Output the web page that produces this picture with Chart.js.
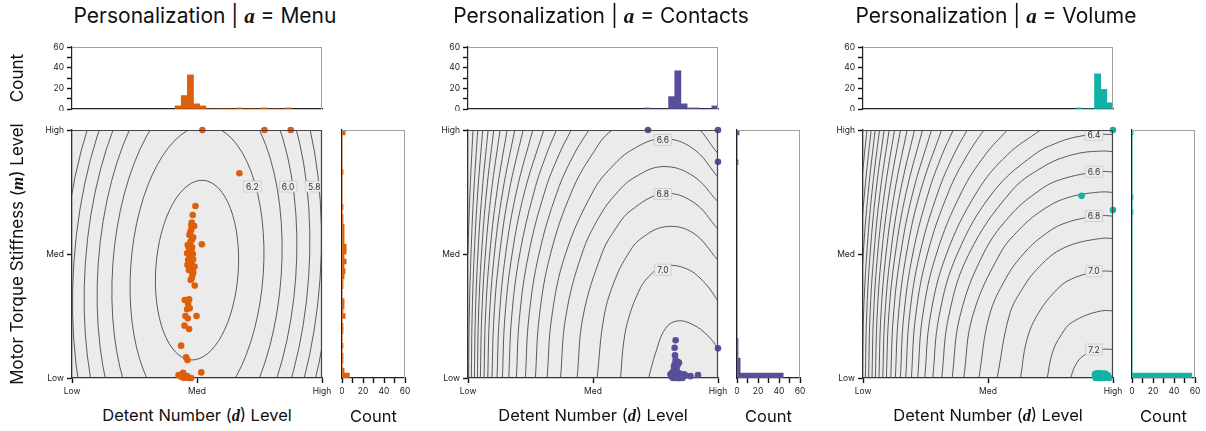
<!DOCTYPE html>
<html>
<head>
<meta charset="utf-8">
<script src="https://cdn.jsdelivr.net/npm/chart.js@4.4.1/dist/chart.umd.min.js"></script>
<style>
  html, body { margin: 0; padding: 0; background: #fff; }
  #fig { position: relative; width: 1206px; height: 431px; overflow: hidden;
         font-family: Inter, "Noto Sans", sans-serif; color: #111; }
  canvas { position: absolute; }
  .lab { position: absolute; white-space: nowrap; line-height: 1; }
  .c { transform: translate(-50%, -50%); }
  .r { transform: translate(-50%, -50%) rotate(-90deg); }
  .v { font-family: "Liberation Serif", serif; font-style: italic; font-weight: bold; }
</style>
</head>
<body>
<div id="fig"></div>
<script>
// ---------- data ----------
const actions = ['Menu', 'Contacts', 'Volume'];
const seriesColors = ['#de5f0b', '#584f9b', '#13b2a4'];
const levelNames = ['Low', 'Med', 'High'];
const levelValues = [-1, 0, 1];
const countTicks = [0, 10, 20, 30, 40, 50, 60];

// chosen settings per participant (d, m), coded Low = -1, Med = 0, High = 1
const menuX = [0.043, 0.54, 0.75, 0.339,
  -0.012, -0.034, -0.042, -0.023, -0.047, -0.06, -0.031, -0.052, 0.039, -0.074, -0.039, -0.058,
  -0.079, -0.034, -0.052, -0.071, -0.031, -0.058, -0.076, -0.02, -0.05, -0.036, -0.042, -0.018,
  -0.045, -0.055, -0.04, -0.065, -0.045, -0.06, -0.042, -0.065, -0.03, -0.05,
  -0.098, -0.063, -0.071, -0.058, -0.079, -0.004, -0.092, -0.074, -0.1, -0.063,
  -0.127, -0.087, -0.076,
  -0.147, -0.127, -0.111, -0.098, -0.079, -0.066, -0.047, -0.106, 0.034];
const menuY = [1, 1, 1, 0.651,
  0.387, 0.315, 0.253, 0.226, 0.194, 0.153, 0.135, 0.099, 0.078, 0.073, 0.054, 0.032,
  0.006, 0, -0.027, -0.048, -0.043, -0.075, -0.089, -0.102, -0.124, -0.169, -0.196, -0.255,
  0.23, 0.17, 0.115, 0.05, 0.02, -0.01, -0.06, -0.13, -0.15, -0.21,
  -0.371, -0.366, -0.403, -0.438, -0.446, -0.5, -0.5, -0.519, -0.578, -0.605,
  -0.739, -0.833, -0.855,
  -0.976, -0.99, -0.958, -0.994, -0.984, -1, -1, -1, -0.955];

const contactsX = [0.44, 1, 1, 1, 0.84,
  0.661, 0.653, 0.656, 0.661, 0.68, 0.653, 0.675, 0.648, 0.688, 0.665, 0.67,
  0.62, 0.63, 0.635, 0.64, 0.645, 0.648, 0.65, 0.652, 0.638,
  0.656, 0.658, 0.66, 0.662, 0.664, 0.666, 0.668, 0.67, 0.672, 0.674, 0.676, 0.678,
  0.68, 0.682, 0.684, 0.686, 0.688, 0.69, 0.692, 0.694, 0.696, 0.698, 0.7,
  0.66, 0.67, 0.68, 0.69, 0.665, 0.675,
  0.71, 0.72, 0.73, 0.74, 0.715, 0.78];
const contactsY = [1, 1, 0.743, -0.761, -0.976,
  -0.695, -0.757, -0.816, -0.856, -0.872, -0.891, -0.899, -0.909, -0.877, -0.93, -0.94,
  -0.97, -0.99, -0.98, -1, -0.965, -0.985, -0.975, -0.995, -0.95,
  -0.97, -0.99, -0.98, -1, -0.965, -0.985, -0.975, -0.995, -0.97, -0.99, -0.98, -1,
  -0.965, -0.985, -0.975, -0.995, -0.97, -0.99, -0.98, -1, -0.965, -0.985, -0.975,
  -0.99, -0.97, -0.98, -1, -0.965, -0.985,
  -0.975, -0.99, -0.97, -0.98, -1, -0.985];

const volumeX = [1, 0.749, 1,
  0.855, 0.858, 0.86, 0.862, 0.864, 0.866, 0.868, 0.87, 0.872, 0.874, 0.876, 0.878,
  0.88, 0.882, 0.884, 0.886, 0.888, 0.89, 0.892, 0.894, 0.896, 0.898,
  0.86, 0.865, 0.87, 0.875, 0.88, 0.885, 0.89, 0.895, 0.87, 0.88, 0.89, 0.9,
  0.903, 0.906, 0.909, 0.912, 0.915, 0.918, 0.921, 0.924, 0.927, 0.93,
  0.933, 0.936, 0.939, 0.942, 0.945, 0.948, 0.91, 0.92, 0.93,
  0.96, 0.97, 0.985, 0.998];
const volumeY = [1, 0.469, 0.355,
  -0.97, -0.99, -0.98, -1, -0.965, -0.985, -0.975, -0.995, -0.97, -0.99, -0.98, -1,
  -0.965, -0.985, -0.975, -0.995, -0.97, -0.99, -0.98, -1, -0.965, -0.985,
  -0.975, -0.995, -0.97, -0.99, -0.98, -1, -0.965, -0.985, -0.975, -0.995,
  -0.97, -0.99, -0.98, -1, -0.965, -0.985, -0.975, -0.995, -0.97, -0.99,
  -0.98, -1, -0.965, -0.985, -0.975, -0.995, -0.97, -0.99, -0.98,
  -0.97, -0.99, -0.98, -1];

// marginal histogram of d (top), bins of equal width from a start value
const menuTopStart = -0.175, menuTopWidth = 0.049;
const menuTopCounts = [3, 13, 33, 5, 3, 0, 0, 0, 0, 0, 1, 0, 0, 0, 1, 0, 0, 0, 1];
const contactsTopStart = 0.407, contactsTopWidth = 0.0494;
const contactsTopCounts = [1, 0, 0, 0, 12, 37, 5, 1, 1, 0, 0, 3];
const volumeTopStart = 0.704, volumeTopWidth = 0.0493;
const volumeTopCounts = [1, 0, 0, 34, 19, 6];

// marginal histogram of m (right), 50 bins from Low to High, index 0 = Low end
const sideStart = -1, sideWidth = 0.04;
const menuSideCounts = [7, 2, 0, 1, 1, 0, 1, 0, 0, 1, 1, 0, 3, 1, 2, 2, 0, 0, 1, 1,
  2, 3, 2, 4, 2, 4, 4, 2, 2, 2, 2, 1, 1, 0, 1, 0, 0, 0, 0, 0,
  0, 1, 0, 0, 0, 0, 0, 0, 0, 3];
const contactsSideCounts = [44, 3, 3, 3, 1, 1, 1, 1, 0, 0, 0, 0, 0, 0, 0, 0, 0, 0, 0, 0,
  0, 0, 0, 0, 0, 0, 0, 0, 0, 0, 0, 0, 0, 0, 0, 0, 0, 0, 0, 0,
  0, 0, 0, 1, 0, 0, 0, 0, 0, 2];
const volumeSideCounts = [57, 0, 0, 0, 0, 0, 0, 0, 0, 0, 0, 0, 0, 0, 0, 0, 0, 0, 0, 0,
  0, 0, 0, 0, 0, 0, 0, 0, 0, 0, 0, 0, 0, 1, 0, 0, 1, 0, 0, 0,
  0, 0, 0, 0, 0, 0, 0, 0, 0, 1];

// predicted-preference contours for Menu: concentric ellipses (levels 6.3 down to 5.7)
const menuRingCenter = [0.0, -0.13];
const menuRingTiltDeg = 4;
const menuRingRx = [0.33, 0.531, 0.675, 0.792, 0.895, 0.987, 1.071];
const menuRingRy = [0.726, 1.168, 1.484, 1.743, 1.969, 2.171, 2.356];
const menuContourLabels = [['6.2', 0.443, 0.544], ['6.0', 0.729, 0.544], ['5.8', 0.938, 0.544]];

// contour polylines for Contacts, outermost first
const contactsContours = [
  [[-1.015, -1], [-1.011, -0.5], [-1.001, 0], [-0.984, 0.5], [-0.96, 1]],
  [[-0.995, -1], [-0.99, -0.5], [-0.976, 0], [-0.954, 0.5], [-0.922, 1]],
  [[-0.973, -1], [-0.967, -0.5], [-0.95, 0], [-0.922, 0.5], [-0.882, 1]],
  [[-0.949, -1], [-0.941, -0.5], [-0.921, 0], [-0.887, 0.5], [-0.839, 1]],
  [[-0.925, -1], [-0.916, -0.5], [-0.892, 0], [-0.852, 0.5], [-0.794, 1]],
  [[-0.901, -1], [-0.89, -0.5], [-0.861, 0], [-0.813, 0.5], [-0.743, 1]],
  [[-0.872, -1], [-0.86, -0.5], [-0.826, 0], [-0.769, 0.5], [-0.687, 1]],
  [[-0.842, -1], [-0.828, -0.5], [-0.789, 0], [-0.723, 0.5], [-0.626, 1]],
  [[-0.808, -1], [-0.792, -0.5], [-0.747, 0], [-0.672, 0.5], [-0.559, 1]],
  [[-0.768, -1], [-0.749, -0.5], [-0.699, 0], [-0.613, 0.5], [-0.482, 1]],
  [[-0.725, -1], [-0.704, -0.5], [-0.647, 0], [-0.548, 0.5], [-0.394, 1]],
  [[-0.674, -1], [-0.65, -0.5], [-0.586, 0], [-0.472, 0.5], [-0.374, 0.8], [-0.292, 1]],
  [[-0.613, -1], [-0.587, -0.5], [-0.515, 0], [-0.387, 0.5], [-0.273, 0.8], [-0.175, 1]],
  [[-0.541, -1], [-0.512, -0.5], [-0.432, 0], [-0.287, 0.5], [-0.154, 0.8], [-0.033, 1]],
  [[-0.461, -1], [-0.429, -0.5], [-0.34, 0], [-0.172, 0.5], [-0.009, 0.8], [0.154, 1],
   [0.45, 1.13], [0.78, 1.06], [1.0, 0.81]],
  [[-0.367, -1], [-0.329, -0.5], [-0.22, 0], [-0.002, 0.5], [0.148, 0.7], [0.328, 0.85],
   [0.56, 0.93], [0.8, 0.85], [1.0, 0.62]],
  [[-0.26, -1], [-0.217, -0.5], [-0.089, 0], [0.05, 0.3], [0.197, 0.5], [0.336, 0.62],
   [0.56, 0.705], [0.8, 0.63], [1.0, 0.42]],
  [[-0.127, -1], [-0.079, -0.5], [0.07, 0], [0.178, 0.2], [0.302, 0.35], [0.56, 0.485],
   [0.8, 0.42], [1.0, 0.2]],
  [[0.033, -1], [0.089, -0.5], [0.179, -0.2], [0.281, 0], [0.379, 0.12], [0.58, 0.22],
   [0.8, 0.17], [1.0, -0.05]],
  [[0.22, -1], [0.247, -0.7], [0.29, -0.5], [0.367, -0.3], [0.43, -0.2], [0.56, -0.1],
   [0.75, -0.12], [0.9, -0.24], [1.0, -0.38]],
  [[0.445, -1], [0.5, -0.8], [0.58, -0.6], [0.675, -0.54], [0.8, -0.57], [0.92, -0.66], [1.0, -0.76]]
];
const contactsContourLabels = [['6.6', 0.559, 0.92], ['6.8', 0.559, 0.485], ['7.0', 0.559, -0.126]];

// contour polylines for Volume, outermost first
const volumeContours = [
  [[-1.08, -1], [-1.05, 0], [-1.017, 0.5], [-0.994, 0.75], [-0.968, 1]],
  [[-1.055, -1], [-1.024, 0], [-0.987, 0.5], [-0.935, 1]],
  [[-1.03, -1], [-1.021, -0.5], [-0.998, 0], [-0.958, 0.5], [-0.903, 1]],
  [[-1.005, -1], [-0.996, -0.5], [-0.97, 0], [-0.928, 0.5], [-0.868, 1]],
  [[-0.981, -1], [-0.971, -0.5], [-0.943, 0], [-0.897, 0.5], [-0.831, 1]],
  [[-0.955, -1], [-0.944, -0.5], [-0.913, 0], [-0.863, 0.5], [-0.791, 1]],
  [[-0.928, -1], [-0.916, -0.5], [-0.883, 0], [-0.827, 0.5], [-0.748, 1]],
  [[-0.901, -1], [-0.887, -0.5], [-0.851, 0], [-0.789, 0.5], [-0.7, 1]],
  [[-0.872, -1], [-0.857, -0.5], [-0.816, 0], [-0.747, 0.5], [-0.647, 1]],
  [[-0.842, -1], [-0.825, -0.5], [-0.779, 0], [-0.702, 0.5], [-0.588, 1]],
  [[-0.813, -1], [-0.794, -0.5], [-0.742, 0], [-0.654, 0.5], [-0.524, 1]],
  [[-0.778, -1], [-0.757, -0.5], [-0.699, 0], [-0.6, 0.5], [-0.452, 1]],
  [[-0.741, -1], [-0.717, -0.5], [-0.653, 0], [-0.542, 0.5], [-0.372, 1]],
  [[-0.701, -1], [-0.674, -0.5], [-0.602, 0], [-0.475, 0.5], [-0.367, 0.8], [-0.278, 1]],
  [[-0.658, -1], [-0.628, -0.5], [-0.546, 0], [-0.4, 0.5], [-0.274, 0.8], [-0.167, 1]],
  [[-0.613, -1], [-0.579, -0.5], [-0.485, 0], [-0.316, 0.5], [-0.165, 0.8], [-0.033, 1]],
  [[-0.562, -1], [-0.523, -0.5], [-0.413, 0], [-0.211, 0.5], [-0.022, 0.8], [0.154, 1]],
  [[-0.506, -1], [-0.461, -0.5], [-0.332, 0], [-0.089, 0.5], [0.155, 0.8], [0.42, 1]],
  [[-0.442, -1], [-0.391, -0.5], [-0.246, 0], [0.042, 0.5], [0.368, 0.8], [0.562, 0.9],
   [0.736, 0.95], [0.9, 0.965], [1.05, 0.96]],
  [[-0.37, -1], [-0.314, -0.5], [-0.153, 0], [0.181, 0.5], [0.436, 0.7], [0.674, 0.8],
   [0.9, 0.83], [1.05, 0.82]],
  [[-0.287, -1], [-0.224, -0.5], [-0.038, 0], [0.169, 0.3], [0.393, 0.5], [0.579, 0.6],
   [0.9, 0.664], [1.05, 0.655]],
  [[-0.194, -1], [-0.123, -0.5], [0.095, 0], [0.253, 0.2], [0.43, 0.35], [0.624, 0.45],
   [0.9, 0.5], [1.05, 0.49]],
  [[-0.073, -1], [0.01, -0.5], [0.141, -0.2], [0.283, 0], [0.444, 0.15], [0.619, 0.25],
   [0.9, 0.308], [1.05, 0.3]],
  [[0.073, -1], [0.169, -0.5], [0.263, -0.3], [0.413, -0.1], [0.609, 0.05], [0.9, 0.125], [1.05, 0.12]],
  [[0.26, -1], [0.309, -0.7], [0.39, -0.5], [0.538, -0.3], [0.671, -0.2], [0.9, -0.14], [1.05, -0.145]],
  [[0.474, -1], [0.514, -0.8], [0.587, -0.65], [0.674, -0.55], [0.9, -0.46], [1.05, -0.465]],
  [[0.661, -1], [0.698, -0.9], [0.764, -0.82], [0.9, -0.77], [1.05, -0.775]]
];
const volumeContourLabels = [['6.4', 0.848, 0.962], ['6.6', 0.848, 0.664], ['6.8', 0.848, 0.308],
  ['7.0', 0.848, -0.14], ['7.2', 0.848, -0.77]];

// ---------- layout ----------
const FONT = 'Inter, "Noto Sans", sans-serif';
const plotLefts = [72, 468, 863];
const sideLefts = [342, 737, 1132];
const plotW = 250, plotTop = 130, plotH = 248;
const topHistTop = 47, topHistH = 62;
const sideW = 63;

const fig = document.getElementById('fig');
Chart.defaults.font.family = FONT;
Chart.defaults.color = '#222';

function makeCanvas(left, top, w, h) {
  const c = document.createElement('canvas');
  c.width = w; c.height = h;
  c.style.left = left + 'px'; c.style.top = top + 'px';
  c.style.width = w + 'px'; c.style.height = h + 'px';
  fig.appendChild(c);
  return c;
}
function addLabel(html, x, y, size, cls) {
  const d = document.createElement('div');
  d.className = 'lab ' + cls;
  d.style.left = x + 'px'; d.style.top = y + 'px';
  d.style.fontSize = size + 'px';
  d.innerHTML = html;
  fig.appendChild(d);
}

// plot background and frame
const framePlugin = {
  id: 'frame',
  beforeDraw(chart, args, o) {
    if (!o.fill) return;
    const a = chart.chartArea, ctx = chart.ctx;
    ctx.save(); ctx.fillStyle = o.fill;
    ctx.fillRect(a.left, a.top, a.right - a.left, a.bottom - a.top);
    ctx.restore();
  },
  afterDraw(chart, args, o) {
    const a = chart.chartArea, ctx = chart.ctx;
    ctx.save(); ctx.strokeStyle = o.color || '#999'; ctx.lineWidth = o.width || 1;
    ctx.beginPath();
    ctx.moveTo(a.left, a.top + 0.5); ctx.lineTo(a.right, a.top + 0.5);
    ctx.moveTo(a.right - 0.5, a.top); ctx.lineTo(a.right - 0.5, a.bottom);
    ctx.stroke(); ctx.restore();
  }
};

// ellipse rings (data units) and boxed contour labels, drawn under the points
const contourPlugin = {
  id: 'contours',
  beforeDatasetDraw(chart, args, o) {
    if (args.index !== 0) return;
    const xs = chart.scales.x, ys = chart.scales.y, a = chart.chartArea, ctx = chart.ctx;
    ctx.save();
    ctx.beginPath(); ctx.rect(a.left, a.top, a.right - a.left, a.bottom - a.top); ctx.clip();
    if (o.rings) {
      const cx = xs.getPixelForValue(o.rings.center[0]);
      const cy = ys.getPixelForValue(o.rings.center[1]);
      const ux = xs.getPixelForValue(1) - xs.getPixelForValue(0);
      const uy = ys.getPixelForValue(0) - ys.getPixelForValue(1);
      ctx.strokeStyle = '#4a4a4a'; ctx.lineWidth = 0.9;
      o.rings.rx.forEach((rx, i) => {
        ctx.beginPath();
        ctx.ellipse(cx, cy, rx * ux, o.rings.ry[i] * uy, o.rings.tilt * Math.PI / 180, 0, Math.PI * 2);
        ctx.stroke();
      });
    }
    ctx.font = '8.5px ' + FONT;
    ctx.textAlign = 'center'; ctx.textBaseline = 'middle';
    (o.labels || []).forEach(([t, x, y]) => {
      const px = xs.getPixelForValue(x), py = ys.getPixelForValue(y);
      const w = ctx.measureText(t).width + 5, h = 11;
      ctx.fillStyle = '#ececec';
      ctx.fillRect(px - w / 2, py - h / 2, w, h);
      ctx.strokeStyle = '#c6c6c6'; ctx.lineWidth = 0.7;
      ctx.strokeRect(px - w / 2, py - h / 2, w, h);
      ctx.fillStyle = '#333';
      ctx.fillText(t, px, py + 0.5);
    });
    ctx.restore();
  }
};

const tickFont = { family: FONT, size: 8.5 };
const baseOptions = {
  responsive: false, animation: false, events: [], devicePixelRatio: 1,
  plugins: { legend: { display: false }, tooltip: { enabled: false } }
};

function levelAxis(fit) {
  return {
    type: 'linear', min: -1, max: 1,
    afterBuildTicks: s => { s.ticks = levelValues.map(v => ({ value: v })); },
    ticks: { callback: v => levelNames[levelValues.indexOf(v)], font: tickFont, color: '#222',
             padding: 3, maxRotation: 0, autoSkip: false },
    grid: { drawOnChartArea: false, tickLength: 5, tickColor: '#111', tickWidth: 1.4 },
    border: { color: '#333', width: 1.3 },
    afterFit: fit
  };
}
function countAxis(fit) {
  return {
    type: 'linear', min: 0, max: 60,
    afterBuildTicks: s => { s.ticks = countTicks.map(v => ({ value: v })); },
    ticks: { callback: v => (v % 20 === 0 ? String(v) : ''), font: tickFont, color: '#222',
             padding: 3, maxRotation: 0, autoSkip: false },
    grid: { drawOnChartArea: false, tickLength: 5, tickColor: '#111', tickWidth: 1.4 },
    border: { color: '#222', width: 1.2 },
    afterFit: fit
  };
}
function hiddenAxis(min, max, fit) {
  return {
    type: 'linear', min, max, offset: false,
    afterBuildTicks: s => { s.ticks = [{ value: min }, { value: max }]; },
    ticks: { display: false },
    grid: { display: true, drawOnChartArea: false, drawTicks: false, offset: false },
    border: { color: '#222', width: 1.2 },
    afterFit: fit
  };
}

const pointSets = [[menuX, menuY], [contactsX, contactsY], [volumeX, volumeY]];
const topHists = [[menuTopStart, menuTopWidth, menuTopCounts],
                  [contactsTopStart, contactsTopWidth, contactsTopCounts],
                  [volumeTopStart, volumeTopWidth, volumeTopCounts]];
const sideHists = [menuSideCounts, contactsSideCounts, volumeSideCounts];
const contourLines = [[], contactsContours, volumeContours];
const contourLabels = [menuContourLabels, contactsContourLabels, volumeContourLabels];

actions.forEach((name, p) => {
  const color = seriesColors[p];
  const L = plotLefts[p], S = sideLefts[p];

  // main scatter with contours
  const padL = 50, padR = 20, padT = 10, axH = 24;
  const cMain = makeCanvas(L - padL, plotTop - padT, padL + plotW + padR, padT + plotH + axH);
  const [xs, ys] = pointSets[p];
  const datasets = [{
    type: 'scatter', data: xs.map((x, i) => ({ x, y: ys[i] })),
    backgroundColor: color, borderWidth: 0, pointRadius: 3.3, clip: false
  }];
  contourLines[p].forEach(pts => datasets.push({
    type: 'line', data: pts.map(([x, y]) => ({ x, y })),
    borderColor: '#4a4a4a', borderWidth: 0.9, pointRadius: 0, tension: 0.4,
    capBezierPoints: false, fill: false
  }));
  new Chart(cMain, {
    type: 'scatter',
    data: { datasets },
    options: Object.assign({}, baseOptions, {
      layout: { padding: { left: 0, right: padR, top: padT, bottom: 0 } },
      scales: {
        x: levelAxis(s => { s.height = axH; s.paddingLeft = 0; s.paddingRight = 0; }),
        y: levelAxis(s => { s.width = padL; s.paddingTop = 0; s.paddingBottom = 0; })
      },
      plugins: Object.assign({}, baseOptions.plugins, {
        frame: { fill: '#ebebeb', color: '#444', width: 1.2 },
        contours: {
          rings: p === 0 ? { center: menuRingCenter, rx: menuRingRx, ry: menuRingRy, tilt: menuRingTiltDeg } : null,
          labels: contourLabels[p]
        }
      })
    }),
    plugins: [framePlugin, contourPlugin]
  });

  // top histogram of d
  const [tStart, tWidth, tCounts] = topHists[p];
  const cTop = makeCanvas(L - padL, topHistTop - 8, padL + plotW + padR, 8 + topHistH + 2);
  new Chart(cTop, {
    type: 'bar',
    data: { datasets: [{
      data: tCounts.map((c, i) => ({ x: tStart + tWidth * (i + 0.5), y: c })),
      backgroundColor: color, borderWidth: 0, barPercentage: 1, categoryPercentage: 1
    }] },
    options: Object.assign({}, baseOptions, {
      layout: { padding: { left: 0, right: padR, top: 8, bottom: 2 } },
      scales: {
        x: hiddenAxis(-1, 1, s => { s.height = 0; s.paddingLeft = 0; s.paddingRight = 0; }),
        y: countAxis(s => { s.width = padL; s.paddingTop = 0; s.paddingBottom = 0; })
      },
      plugins: Object.assign({}, baseOptions.plugins, { frame: { color: '#a0a0a0', width: 1 } })
    }),
    plugins: [framePlugin]
  });

  // side histogram of m
  const cSide = makeCanvas(S - 2, plotTop - padT, 2 + sideW + 14, padT + plotH + axH);
  new Chart(cSide, {
    type: 'bar',
    data: { datasets: [{
      data: sideHists[p].map((c, i) => ({ y: sideStart + sideWidth * (i + 0.5), x: c })),
      backgroundColor: color, borderWidth: 0, barPercentage: 1, categoryPercentage: 1
    }] },
    options: Object.assign({}, baseOptions, {
      indexAxis: 'y',
      layout: { padding: { left: 2, right: 14, top: padT, bottom: 0 } },
      scales: {
        x: countAxis(s => { s.height = axH; s.paddingLeft = 0; s.paddingRight = 0; }),
        y: hiddenAxis(-1, 1, s => { s.width = 0; s.paddingTop = 0; s.paddingBottom = 0; })
      },
      plugins: Object.assign({}, baseOptions.plugins, { frame: { color: '#a0a0a0', width: 1 } })
    }),
    plugins: [framePlugin]
  });

  // text
  const cx = L + plotW / 2;
  addLabel('Personalization | <span class="v">a</span> = ' + name, cx + 8, 16, 21, 'c');
  addLabel('Detent Number (<span class="v">d</span>) Level', cx, 416, 16.5, 'c');
  addLabel('Count', S + sideW / 2, 416, 16.5, 'c');
});
addLabel('Count', 17, 78, 17, 'r');
addLabel('Motor Torque Stiffness (<span class="v">m</span>) Level', 17, 254, 17, 'r');
</script>
</body>
</html>
